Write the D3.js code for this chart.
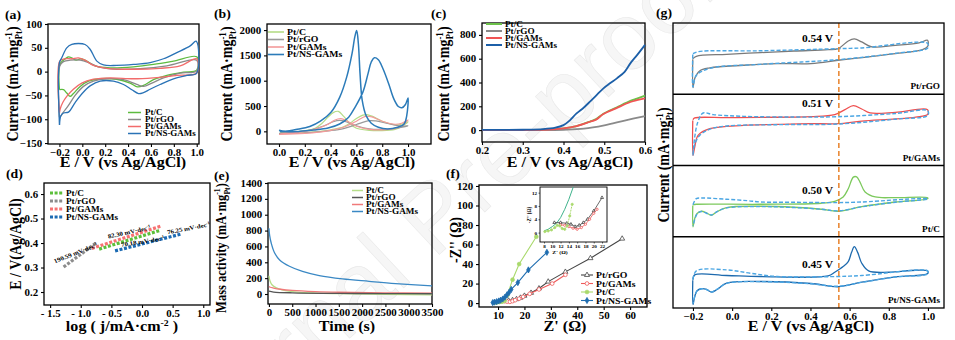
<!DOCTYPE html>
<html>
<head>
<meta charset="utf-8">
<script src="https://cdn.jsdelivr.net/npm/d3@7"></script>
<style>
  body { margin: 0; background: #fff; }
  svg { font-family: "Liberation Serif", "Times New Roman", serif; font-weight: bold; }
</style>
</head>
<body>
<svg id="fig" width="955" height="340"></svg>
<script>
const names = ["Pt/C", "Pt/rGO", "Pt/GAMs", "Pt/NS-GAMs"];

// (a) CV in acid, [E (V), I (mA/mg)]
const cvA_PtC = [[-0.2,-38],[-0.197,15],[-0.165,24],[-0.121,31],[-0.092,29],[-0.054,24],[-0.013,27],[0.039,22],[0.112,12],[0.243,8],[0.447,10],[0.622,15],[0.797,22],[1.0,31],[1.0,3],[0.885,-1],[0.739,-8],[0.622,-17],[0.535,-29],[0.482,-32],[0.418,-24],[0.301,-16],[0.156,-15],[0.054,-20],[-0.019,-31],[-0.078,-46],[-0.107,-52],[-0.136,-45],[-0.165,-38],[-0.199,-38]];
const cvA_PtrGO = [[-0.2,-96],[-0.197,12],[-0.165,21],[-0.107,24],[-0.019,24],[0.054,19],[0.141,10],[0.30,5],[0.505,6],[0.739,12],[1.0,24],[1.0,1],[0.855,-3],[0.71,-13],[0.608,-24],[0.535,-31],[0.476,-27],[0.36,-17],[0.214,-15],[0.097,-20],[0.01,-31],[-0.063,-50],[-0.121,-71],[-0.165,-85],[-0.188,-93],[-0.199,-96]];
const cvA_PtGAMs = [[-0.2,-86],[-0.197,22],[-0.15,27],[-0.092,27],[-0.034,29],[0.024,24],[0.097,13],[0.214,7],[0.447,5],[0.68,7],[0.855,12],[1.0,27],[1.0,-3],[0.826,-8],[0.622,-13],[0.447,-15],[0.243,-13],[0.097,-16],[-0.005,-24],[-0.078,-37],[-0.136,-52],[-0.171,-65],[-0.194,-79],[-0.199,-86]];
const cvA_PtNS = [[-0.2,-112],[-0.2,19],[-0.18,29],[-0.136,50],[-0.092,57],[-0.034,59],[0.024,57],[0.068,47],[0.127,22],[0.185,14],[0.30,13],[0.447,15],[0.593,19],[0.71,27],[0.826,40],[0.943,54],[0.995,64],[1.0,-3],[0.914,-8],[0.797,-15],[0.68,-27],[0.593,-37],[0.535,-44],[0.491,-46],[0.433,-38],[0.36,-27],[0.272,-20],[0.156,-20],[0.068,-30],[-0.005,-47],[-0.063,-65],[-0.121,-85],[-0.165,-87],[-0.188,-93],[-0.199,-112]];

// (b) methanol oxidation CV, [E, I]
const cvB_PtC = [[0.0,-40],[0.1,-35],[0.2,-25],[0.3,-5],[0.4,30],[0.5,90],[0.55,160],[0.6,255],[0.65,320],[0.68,330],[0.72,300],[0.8,200],[0.9,130],[0.95,140],[1.0,190],[0.95,90],[0.9,40],[0.8,15],[0.7,20],[0.6,60],[0.55,150],[0.5,300],[0.46,395],[0.42,370],[0.38,280],[0.33,150],[0.28,60],[0.2,10],[0.1,-15],[0.01,-20]];
const cvB_PtrGO = [[0.0,-45],[0.2,-30],[0.4,15],[0.5,55],[0.6,135],[0.7,210],[0.75,205],[0.85,150],[0.95,105],[1.0,110],[0.9,60],[0.8,40],[0.7,50],[0.6,110],[0.52,190],[0.47,215],[0.42,190],[0.35,110],[0.25,30],[0.1,-20],[0.01,-30]];
const cvB_PtGAMs = [[0.0,-60],[0.2,-40],[0.4,20],[0.5,80],[0.6,200],[0.67,295],[0.72,285],[0.8,200],[0.9,140],[0.95,160],[1.0,225],[0.95,110],[0.9,60],[0.8,30],[0.7,40],[0.6,100],[0.53,200],[0.48,250],[0.43,220],[0.38,140],[0.3,60],[0.2,0],[0.1,-30],[0.01,-50]];
const cvB_PtNS = [[0.0,20],[0.05,-5],[0.16,0],[0.27,25],[0.38,65],[0.47,145],[0.54,280],[0.59,480],[0.65,775],[0.69,1140],[0.715,1370],[0.74,1455],[0.77,1415],[0.805,1240],[0.85,940],[0.89,640],[0.925,490],[0.952,465],[0.98,530],[1.0,660],[0.99,310],[0.97,145],[0.92,80],[0.84,45],[0.77,80],[0.715,160],[0.675,310],[0.645,610],[0.628,1140],[0.615,1735],[0.602,1990],[0.588,1870],[0.566,1535],[0.525,1075],[0.471,675],[0.403,375],[0.321,200],[0.239,95],[0.131,35],[0.049,0],[0.005,-5]];

// (c) LSV, [E, I]
const lsv_PtC = [[0.2,0],[0.3,1],[0.36,4],[0.4,14],[0.432,34],[0.465,72],[0.48,92],[0.498,138],[0.53,190],[0.564,245],[0.58,265],[0.6,290]];
const lsv_PtrGO = [[0.2,0],[0.35,0],[0.4,3],[0.45,12],[0.5,40],[0.55,80],[0.6,118]];
const lsv_PtGAMs = [[0.2,0],[0.3,1],[0.36,4],[0.4,14],[0.432,34],[0.465,70],[0.48,88],[0.498,135],[0.53,185],[0.564,236],[0.58,252],[0.6,267]];
const lsv_PtNS = [[0.2,2],[0.3,3],[0.35,8],[0.38,20],[0.40,42],[0.415,80],[0.432,140],[0.45,190],[0.465,239],[0.48,290],[0.498,351],[0.515,395],[0.531,435],[0.55,490],[0.564,561],[0.581,632],[0.6,716]];

// (d) Tafel, [log j, E]
const tafel_PtC = [[-0.7,0.375],[0.3,0.452]];
const tafel_PtrGO = [[-1.28,0.302],[-0.75,0.40]];
const tafel_PtGAMs = [[-0.82,0.378],[0.32,0.47]];
const tafel_PtNS = [[-0.44,0.368],[0.63,0.436]];
const tafelSlopes = ["190.59", "82.30", "76.25", "70.18"];

// (e) chronoamperometry, [t (s), mass activity]
const ca_PtC = [[0,230],[20,170],[60,120],[150,80],[300,50],[600,25],[1000,12],[1500,5],[2500,-5],[3500,-10]];
const ca_PtrGO = [[0,35],[100,25],[500,15],[1500,8],[2500,5],[3500,3]];
const ca_PtGAMs = [[0,95],[30,85],[100,75],[250,60],[500,45],[1000,30],[1500,22],[2500,15],[3500,12]];
const ca_PtNS = [[0,830],[15,740],[50,640],[120,520],[230,430],[440,350],[720,285],[1080,232],[1580,190],[2150,160],[2720,132],[3500,103]];

// (f) Nyquist, [Z', -Z'']
const eis_PtrGO = [[12.5,2],[14,2.5],[15.5,3],[17,4],[18.5,5.5],[20,7.5],[22.5,10.5],[25.5,15],[29,22],[35.5,32],[45,46],[57,66]];
const eis_PtGAMs = [[12.5,2],[13.5,1.5],[14.5,1.3],[15.5,2],[16.5,3],[18,4.5],[19.5,6.5],[22,9.5],[25.5,14],[30.5,20],[35.5,29]];
const eis_PtC = [[8.5,0.3],[9.5,0.7],[10.5,1.1],[11.5,1.4],[12.5,2.5],[13.5,8],[15.5,24],[18,40],[24.5,68]];
const eis_PtNS = [[8,0.5],[8.7,1],[9.5,1.5],[10.3,2.2],[11,3],[11.8,4.2],[12.6,6],[13.4,8.5],[14.2,11],[15,14],[17.5,21],[21.5,34],[28.5,52]];
const inset_PtrGO = [[10.5,3],[12,3],[13.5,2.8],[14.5,2.5],[15.5,1.8],[16.5,2.2],[17.5,3],[18.5,4],[20,6.5],[22,10.5]];
const inset_PtGAMs = [[12,2.3],[13,2.2],[14,1.8],[15,1.3],[16,1],[17,1.5],[18,2.5],[19,4],[20,5.8],[20.8,7]];
const inset_PtC = [[8.2,0.3],[9,0.5],[9.8,0.8],[10.6,1.5],[11.2,2.2],[11.8,2],[12.4,1.2],[13,1],[13.6,2],[14.2,5],[14.8,8.5]];
const inset_PtNS = [[8,0.5],[9,1],[10,1.8],[11,2.8],[12,4.5],[13,7],[14,10],[15,13.5],[16,17]];

// (g) CO stripping, [E, relative current] per catalyst: solid = 1st scan, dashed = 2nd scan
const co_PtrGO = [[-0.2,50],[-0.183,53.3],[-0.028,56],[0.145,58.4],[0.317,60.7],[0.49,62.6],[0.541,64],[0.593,74.8],[0.624,77.6],[0.662,73.4],[0.714,66.4],[0.834,68.7],[0.955,72],[0.998,75.7],[0.999,67.3],[0.972,62.6],[0.834,57],[0.662,51.4],[0.541,47.7],[0.403,43],[0.231,43],[0.059,40.7],[-0.114,37],[-0.166,32.7],[-0.191,22],[-0.2,9.3],[-0.201,49]];
const co2_PtrGO = [[-0.2,57],[-0.174,59.8],[0.145,61],[0.541,64],[0.662,65],[0.998,71.5],[0.999,65],[0.834,57.5],[0.541,48.6],[0.145,42],[-0.114,36.4],[-0.183,26.6],[-0.2,10],[-0.201,56]];
const co_PtGAMs = [[-0.2,64.3],[-0.191,66.7],[-0.028,67.1],[0.145,67.6],[0.403,68.5],[0.524,71.4],[0.576,78.4],[0.619,84],[0.662,79.3],[0.705,73.7],[0.834,74.6],[0.998,78.4],[0.999,71.8],[0.938,68],[0.834,65.3],[0.662,62.4],[0.541,58.7],[0.403,58.7],[0.231,57.7],[0.059,56.3],[-0.114,51.6],[-0.174,42.3],[-0.191,25.8],[-0.2,14.1],[-0.201,63]];
const co2_PtGAMs = [[-0.2,14],[-0.191,40],[-0.174,62],[-0.148,73.7],[-0.097,71.4],[0.059,69],[0.317,68],[0.541,68.5],[0.834,73],[0.998,77],[0.999,70.4],[0.834,65],[0.541,58.2],[0.231,57.3],[-0.028,55.4],[-0.114,51],[-0.166,42],[-0.191,30],[-0.201,15]];
const co_PtC = [[-0.2,45.1],[-0.183,45.6],[0.145,45.6],[0.455,47],[0.524,49.8],[0.567,55.8],[0.593,67.4],[0.619,83.7],[0.636,84],[0.653,76.7],[0.679,62.8],[0.731,55.8],[0.834,54.9],[0.998,54.9],[0.999,53.5],[0.834,48.8],[0.662,42.3],[0.541,35.8],[0.455,38.6],[0.317,41.4],[0.145,42.8],[-0.028,40.9],[-0.079,34.9],[-0.105,30.2],[-0.131,33.5],[-0.157,35.8],[-0.179,32.6],[-0.191,25.6],[-0.2,14],[-0.201,44]];
const co2_PtC = [[-0.2,45],[-0.183,53.5],[-0.157,54.4],[-0.028,52.6],[0.076,50.7],[0.145,48.8],[0.317,48.4],[0.541,47.9],[0.662,48.8],[0.998,53.5],[0.999,53],[0.834,48.5],[0.662,42],[0.541,36.3],[0.455,38.6],[0.317,41],[0.145,42.3],[-0.028,40.5],[-0.079,35],[-0.105,30.5],[-0.131,33],[-0.157,35.5],[-0.179,32],[-0.2,15]];
const co_PtNS = [[-0.2,39.5],[-0.191,46.5],[-0.028,45.6],[0.145,44.2],[0.49,45.1],[0.524,50.2],[0.567,58.1],[0.593,65.1],[0.61,78.1],[0.624,86],[0.641,78.1],[0.662,62.8],[0.697,52.1],[0.8,50.2],[0.938,53],[0.998,52.1],[0.999,48.4],[0.834,43.7],[0.662,36.3],[0.541,29.8],[0.403,34.4],[0.145,37.2],[-0.028,34.9],[-0.079,25.6],[-0.105,22.3],[-0.131,26],[-0.157,27],[-0.179,24.2],[-0.191,16.3],[-0.2,4.7],[-0.201,39]];
const co2_PtNS = [[-0.2,40],[-0.183,52.1],[-0.028,53.5],[0.093,48.8],[0.231,44.2],[0.541,44.2],[0.662,45.6],[0.998,52.1],[0.999,48],[0.834,43.5],[0.662,36],[0.541,30.5],[0.403,34],[0.145,37],[-0.028,34.5],[-0.079,26],[-0.105,22.5],[-0.131,26],[-0.157,27],[-0.179,24],[-0.2,6]];
const coOnset = ["0.54 V", "0.51 V", "0.50 V", "0.45 V"];
const coNames = ["Pt/rGO", "Pt/GAMs", "Pt/C", "Pt/NS-GAMs"];
const coDashE = 0.545;

// tick values
const aTicksX = [-0.2, 0, 0.2, 0.4, 0.6, 0.8, 1.0], aTicksY = [-150, -100, -50, 0, 50, 100];
const bTicksX = [0, 0.2, 0.4, 0.6, 0.8, 1.0], bTicksY = [0, 500, 1000, 1500, 2000];
const cTicksX = [0.2, 0.3, 0.4, 0.5, 0.6], cTicksY = [0, 200, 400, 600, 800];
const dTicksX = [-1.5, -1, -0.5, 0, 0.5, 1], dTicksY = [0.2, 0.3, 0.4, 0.5, 0.6];
const eTicksX = [0, 500, 1000, 1500, 2000, 2500, 3000, 3500], eTicksY = [0, 200, 400, 600, 800, 1000, 1200, 1400];
const fTicksX = [10, 20, 30, 40, 50, 60], fTicksY = [0, 20, 40, 60, 80, 100, 120];
const insetTicksX = [8, 10, 12, 14, 16, 18, 20, 22], insetTicksY = [0, 4, 8, 12];
const gTicksX = [-0.2, 0, 0.2, 0.4, 0.6, 0.8, 1.0];

const svg = d3.select("#fig");
const SX = 1.15;

// faint watermark behind everything
svg.append("text")
  .attr("transform", "translate(455,240) rotate(-43)")
  .attr("text-anchor", "middle")
  .attr("font-family", "Liberation Sans").attr("font-weight", "normal")
  .attr("font-size", 95)
  .attr("fill", "#f6f6f6").attr("stroke", "#e9e9e9").attr("stroke-width", 0.6)
  .text("Journal Pre-proof");

function txt(g, x, y, s, size, anchor, rot) {
  const t = g.append("text")
    .attr("transform", `translate(${x},${y}) scale(${SX},1)` + (rot ? ` rotate(${rot})` : ""))
    .attr("font-size", size)
    .attr("text-anchor", anchor || "start");
  if (s) t.text(s);
  return t;
}

// "(mA·mg-1 Pt)" with stacked super/subscript
function unit(t, pre, post, size) {
  const s = size * 0.62;
  t.append("tspan").text(pre);
  t.append("tspan").attr("font-size", s).attr("dy", -size * 0.4).text("-1");
  t.append("tspan").attr("font-size", s).attr("dx", -s * 0.8).attr("dy", size * 0.65).text("Pt");
  t.append("tspan").attr("dy", -size * 0.25).text(post);
}

function panel(box, xd, yd, xt, yt, xf, yf, fs, tk) {
  const [x0, y0, x1, y1] = box;
  const x = d3.scaleLinear().domain(xd).range([x0, x1]);
  const y = d3.scaleLinear().domain(yd).range([y1, y0]);
  const g = svg.append("g");
  const size = tk || 3;
  const style = a => {
    a.attr("font-family", null).attr("font-size", fs || 9.5);
    a.select(".domain").remove();
    a.selectAll(".tick line").attr("stroke-width", size < 3 ? 0.6 : 1.1);
    a.selectAll(".tick text").attr("transform", `scale(${SX},1)`);
  };
  if (xt) g.append("g").attr("transform", `translate(0,${y1})`)
    .call(d3.axisBottom(x).tickValues(xt).tickFormat(xf).tickSize(size).tickPadding(size < 3 ? 1 : 2)).call(style);
  if (yt) g.append("g").attr("transform", `translate(${x0},0)`)
    .call(d3.axisLeft(y).tickValues(yt).tickFormat(yf).tickSize(size).tickPadding(size < 3 ? 1 : 2)).call(style);
  g.append("rect").attr("x", x0).attr("y", y0).attr("width", x1 - x0).attr("height", y1 - y0)
    .attr("fill", "none").attr("stroke", "#000").attr("stroke-width", size < 3 ? 0.9 : 1.3);
  return { g, x, y };
}

function draw(p, data, color, w, dash, curve) {
  return p.g.append("path").datum(data)
    .attr("fill", "none").attr("stroke", color).attr("stroke-width", w)
    .attr("stroke-linejoin", "round")
    .attr("stroke-dasharray", dash || null)
    .attr("d", d3.line().x(d => p.x(d[0])).y(d => p.y(d[1])).curve(curve || d3.curveCatmullRom.alpha(0.5)));
}

function legend(g, x0, x1, tx, rows, labels, colors, size, lw, dash) {
  labels.forEach((n, i) => {
    g.append("line").attr("x1", x0).attr("x2", x1).attr("y1", rows[i]).attr("y2", rows[i])
      .attr("stroke", colors[i]).attr("stroke-width", lw).attr("stroke-dasharray", dash || null);
    txt(g, tx, rows[i] + size * 0.33, n, size);
  });
}

const f1 = d3.format(".1f"), fd = d3.format("d");

// ---------- (a)
const colA = ["#5dbb3f", "#8a8a8a", "#f26b6b", "#2a73b6"];
const pa = panel([48, 24, 199, 144], [-0.3, 1.02], [-152, 100], aTicksX, aTicksY, f1, fd);
[cvA_PtC, cvA_PtrGO, cvA_PtGAMs, cvA_PtNS].forEach((d, i) => draw(pa, d, colA[i], 1.3));
legend(pa.g, 128, 141, 145, [112.5, 119.5, 126.5, 133.5], names, colA, 7.8, 1.5);

// ---------- (b)
const colB = ["#b5dc87", "#9a9a9a", "#f39a9a", "#2b7bb9"];
const pb = panel([267, 24, 431, 144], [-0.093, 1.178], [-250, 2120], bTicksX, bTicksY, f1, fd);
[cvB_PtC, cvB_PtrGO, cvB_PtGAMs, cvB_PtNS].forEach((d, i) => draw(pb, d, colB[i], i === 3 ? 1.5 : 1.2));
legend(pb.g, 268, 284, 287, [32, 39.5, 47, 54.5], names, colB, 8.5, 1.6);

// ---------- (c)
const colC = ["#6cc24a", "#8a8a8a", "#f05454", "#1c5fa8"];
const pc = panel([482, 23, 645, 142], [0.2, 0.6], [-100, 900], cTicksX, cTicksY, f1, fd);
[lsv_PtC, lsv_PtrGO, lsv_PtGAMs, lsv_PtNS].forEach((d, i) => draw(pc, d, colC[i], 1.8));
legend(pc.g, 486, 502, 505, [24, 31, 38, 45], names, colC, 8, 2);

// ---------- (d)
const colD = ["#5cbf3a", "#8c8c8c", "#f77272", "#1c6bb3"];
const pd = panel([44, 183, 210, 305], [-1.6, 1.11], [0.147, 0.645], dTicksX, dTicksY,
  d => d < 0 ? "- " + f1(-d) : f1(d), f1);
[tafel_PtrGO, tafel_PtGAMs, tafel_PtC, tafel_PtNS].forEach((d, i) =>
  draw(pd, d, colD[[1, 2, 0, 3][i]], 3.2, "3,1.6", d3.curveLinear));
legend(pd.g, 50, 63, 66, [193, 201, 209, 217], names, colD, 8, 3, "3,1.6");
// slope annotations placed in data coords
[[-1.065, 0.352, -24], [-0.2, 0.437, -14], [0.77, 0.452, -12], [0.02, 0.398, -10]].forEach((a, i) => {
  const t = txt(pd.g, pd.x(a[0]), pd.y(a[1]), null, 6, "middle", a[2]);
  t.append("tspan").text(tafelSlopes[i] + " mV·dec");
  t.append("tspan").attr("font-size", 4).attr("dy", -2.5).text("-1");
});

// ---------- (e)
const colE = ["#b7de8a", "#555555", "#f07a7a", "#3a88c4"];
const pe = panel([268, 183, 432, 304], [-20, 3500], [-126, 1400], eTicksX, eTicksY, fd, fd);
[ca_PtNS, ca_PtC, ca_PtGAMs, ca_PtrGO].forEach((d, i) => draw(pe, d, colE[[3, 0, 2, 1][i]], 1.3));
legend(pe.g, 352, 363, 366, [190.5, 197.5, 204.5, 211.5], names, colE, 8, 1.5);

// ---------- (f)
const colF = { rGO: "#444444", GAMs: "#ee5a5a", C: "#a9d96c", NS: "#1f6db0" };
const pf = panel([479, 185, 647, 307], [2.8, 66.4], [-4, 121], fTicksX, fTicksY, fd, fd);
const fSeries = [
  [eis_PtrGO, colF.rGO, d3.symbolTriangle, "#ffffff"],
  [eis_PtGAMs, colF.GAMs, d3.symbolCircle, "#ffffff"],
  [eis_PtC, colF.C, d3.symbolCircle, colF.C],
  [eis_PtNS, colF.NS, d3.symbolDiamond, colF.NS]
];
function marks(p, data, color, sym, fill, size) {
  p.g.append("g").selectAll("path").data(data).join("path")
    .attr("transform", d => `translate(${p.x(d[0])},${p.y(d[1])})`)
    .attr("d", d3.symbol(sym, size))
    .attr("fill", fill).attr("stroke", color).attr("stroke-width", 0.8);
}
fSeries.forEach(s => { draw(pf, s[0], s[1], 1.1, null, d3.curveLinear); marks(pf, s[0], s[1], s[2], s[3], 11); });
["Pt/rGO", "Pt/GAMs", "Pt/C", "Pt/NS-GAMs"].forEach((n, i) => {
  const yy = [275, 283.5, 292, 300.5][i];
  pf.g.append("line").attr("x1", 581).attr("x2", 593).attr("y1", yy).attr("y2", yy)
    .attr("stroke", fSeries[i][1]).attr("stroke-width", 1.1);
  pf.g.append("path").attr("transform", `translate(587,${yy})`).attr("d", d3.symbol(fSeries[i][2], 11))
    .attr("fill", fSeries[i][3]).attr("stroke", fSeries[i][1]).attr("stroke-width", 0.8);
  txt(pf.g, 596, yy + 3, n, 8.5);
});
// inset
const ib = [540, 187, 607, 242];
pf.g.append("rect").attr("x", ib[0]).attr("y", ib[1]).attr("width", ib[2] - ib[0]).attr("height", ib[3] - ib[1]).attr("fill", "#fff");
const pi = panel(ib, [7.03, 23.2], [-2.83, 13.7], insetTicksX, insetTicksY, fd, fd, 4.5, 1.5);
svg.append("clipPath").attr("id", "insetClip").append("rect")
  .attr("x", ib[0]).attr("y", ib[1]).attr("width", ib[2] - ib[0]).attr("height", ib[3] - ib[1]);
const piClip = { g: pi.g.append("g").attr("clip-path", "url(#insetClip)"), x: pi.x, y: pi.y };
draw(piClip, inset_PtNS, "#3fb38c", 1, null, d3.curveLinear);
draw(piClip, inset_PtrGO, colF.rGO, 0.8, null, d3.curveLinear);
marks(piClip, inset_PtrGO, colF.rGO, d3.symbolTriangle, "#fff", 4);
draw(piClip, inset_PtGAMs, colF.GAMs, 0.8, null, d3.curveLinear);
marks(piClip, inset_PtGAMs, colF.GAMs, d3.symbolCircle, "#fff", 4);
draw(piClip, inset_PtC, colF.C, 1, "2,1", d3.curveLinear);
marks(piClip, inset_PtC, colF.C, d3.symbolCircle, colF.C, 4);
txt(pi.g, 560, 254, "Z' (Ω)", 5, "middle");
txt(pi.g, 531, 215, "-Z'' (Ω)", 5, "middle", -90);

// ---------- (g)
const gBox = [673, 23, 944, 308];
const gx = d3.scaleLinear().domain([-0.302, 1.082]).range([gBox[0], gBox[2]]);
const subH = (gBox[3] - gBox[1]) / 4;
const colG = ["#7a7a7a", "#ef4f4f", "#7cc95c", "#1d6aae"];
const coSolid = [co_PtrGO, co_PtGAMs, co_PtC, co_PtNS];
const coDash = [co2_PtrGO, co2_PtGAMs, co2_PtC, co2_PtNS];
const onsetY = [73, 82, 60, 56];
const gg = svg.append("g");
coSolid.forEach((d, i) => {
  const top = gBox[1] + i * subH;
  const p = { g: gg, x: gx, y: d3.scaleLinear().domain([0, 100]).range([top + subH, top]) };
  draw(p, d, colG[i], 1.3);
  draw(p, coDash[i], "#4ba6e3", 1.4, "4,2");
  txt(gg, gx(0.515), p.y(onsetY[i]), coOnset[i], 10, "end");
  txt(gg, gBox[2] - 4, top + subH - 5, coNames[i], 8, "end");
  if (i > 0) gg.append("line").attr("x1", gBox[0]).attr("x2", gBox[2]).attr("y1", top).attr("y2", top)
    .attr("stroke", "#000").attr("stroke-width", 1.3);
});
gg.append("line").attr("x1", gx(coDashE)).attr("x2", gx(coDashE)).attr("y1", gBox[1]).attr("y2", gBox[3])
  .attr("stroke", "#e8822a").attr("stroke-width", 1.5).attr("stroke-dasharray", "5,3");
const pgAxis = panel(gBox, gx.domain(), [0, 1], gTicksX, null, f1, null);

// ---------- panel letters and axis titles
[["(a)", 5, 19], ["(b)", 214, 18], ["(c)", 431, 18], ["(d)", 6, 178], ["(e)", 214, 180], ["(f)", 446, 178], ["(g)", 656, 17]]
  .forEach(l => txt(svg, l[1], l[2], l[0], 12));

[[123, 167], [352, 167], [570, 167], [811, 331]].forEach(p => txt(svg, p[0], p[1], "E / V (vs Ag/AgCl)", 14, "middle"));
[[18, 84], [232, 84], [449, 84], [669, 165]].forEach(p => unit(txt(svg, p[0], p[1], null, 14, "middle", -90), "Current (mA·mg", ")", 14));
txt(svg, 21, 244, "E / V(Ag/AgCl)", 14, "middle", -90);
const dl = txt(svg, 122, 331, null, 14, "middle");
dl.append("tspan").text("log ( j/mA·cm");
dl.append("tspan").attr("font-size", 8.5).attr("dy", -5).text("-2");
dl.append("tspan").attr("dy", 5).text(" )");
unit(txt(svg, 226, 248, null, 12.5, "middle", -90), "Mass activity (mA·mg", ")", 12.5);
txt(svg, 347, 331, "Time (s)", 14, "middle");
txt(svg, 461, 240, "-Z'' (Ω)", 14, "middle", -90);
txt(svg, 565, 331, "Z' (Ω)", 14, "middle");
</script>
</body>
</html>
